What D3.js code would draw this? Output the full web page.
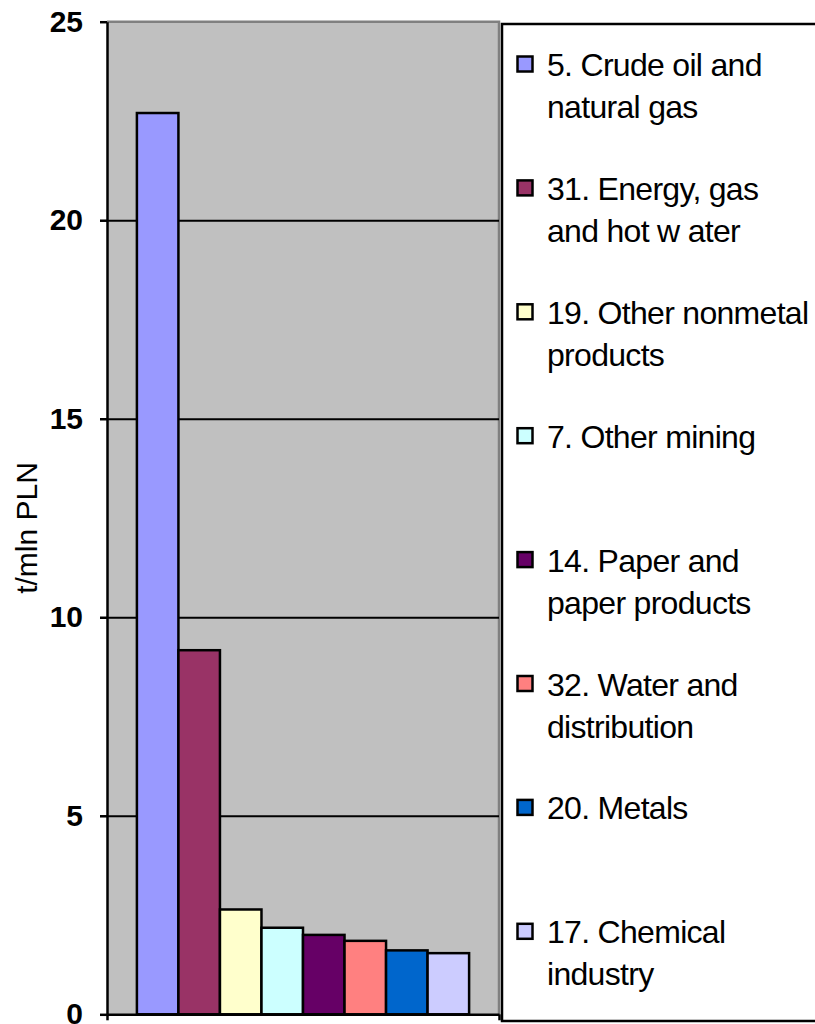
<!DOCTYPE html>
<html>
<head>
<meta charset="utf-8">
<script src="https://cdn.jsdelivr.net/npm/d3@7/dist/d3.min.js"></script>
<style>
  html, body { margin: 0; padding: 0; background: #ffffff; }
  svg { display: block; font-family: "Liberation Sans", Arial, sans-serif; }
</style>
</head>
<body>
<svg id="chart" width="815" height="1024"></svg>
<script>
// Emission intensity by industry (t per mln PLN)
const categories = [
  "5. Crude oil and natural gas",
  "31. Energy, gas and hot water",
  "19. Other nonmetal products",
  "7. Other mining",
  "14. Paper and paper products",
  "32. Water and distribution",
  "20. Metals",
  "17. Chemical industry"
];
const values = [22.7, 9.17, 2.64, 2.18, 2.0, 1.85, 1.61, 1.54];
const colors = ["#9999ff", "#993366", "#ffffcc", "#ccffff", "#660066", "#ff8080", "#0066cc", "#ccccff"];
const legendLines = [
  ["5. Crude oil and", "natural gas"],
  ["31. Energy, gas", "and hot w ater"],
  ["19. Other nonmetal", "products"],
  ["7. Other mining"],
  ["14. Paper and", "paper products"],
  ["32. Water and", "distribution"],
  ["20. Metals"],
  ["17. Chemical", "industry"]
];
const yTicks = [0, 5, 10, 15, 20, 25];
const yTitle = "t/mln PLN";

const svg = d3.select("#chart");
const plot = { left: 107, right: 499, top: 21.7, bottom: 1014.3 };

const y = d3.scaleLinear().domain([0, 25]).range([plot.bottom, plot.top]);
const x = d3.scaleBand().domain(categories)
  .range([plot.left, plot.right])
  .paddingInner(0).paddingOuter(0.72);

// plot background
svg.append("rect")
  .attr("x", plot.left).attr("y", plot.top)
  .attr("width", plot.right - plot.left).attr("height", plot.bottom - plot.top)
  .attr("fill", "#c0c0c0");

// top and right frame
svg.append("path")
  .attr("d", `M${plot.left},${plot.top}H${plot.right}V${plot.bottom}`)
  .attr("fill", "none").attr("stroke", "#808080").attr("stroke-width", 2.5);

// gridlines
const grid = svg.append("g")
  .attr("transform", `translate(${plot.left},0)`)
  .call(d3.axisLeft(y).tickValues([5, 10, 15, 20])
    .tickSize(-(plot.right - plot.left)).tickFormat(""));
grid.select(".domain").remove();
grid.selectAll(".tick line").attr("stroke", "#000").attr("stroke-width", 2);

// bars
svg.append("g").selectAll("rect")
  .data(categories)
  .join("rect")
  .attr("x", d => x(d))
  .attr("y", (d, i) => y(values[i]))
  .attr("width", x.bandwidth())
  .attr("height", (d, i) => y(0) - y(values[i]))
  .attr("fill", (d, i) => colors[i])
  .attr("stroke", "#000")
  .attr("stroke-width", 2.5);

// category axis (single group, ticks at both edges)
const xEdge = d3.scaleLinear().domain([0, 1]).range([plot.left, plot.right]);
const xAxis = svg.append("g")
  .attr("transform", `translate(0,${plot.bottom})`)
  .call(d3.axisBottom(xEdge).tickValues([0, 1]).tickSize(6).tickSizeOuter(0).tickFormat(""));
xAxis.selectAll("path, line").attr("stroke", "#000").attr("stroke-width", 2.5);

// value axis
const yAxis = svg.append("g")
  .attr("transform", `translate(${plot.left},0)`)
  .call(d3.axisLeft(y).tickValues(yTicks).tickSize(7).tickSizeOuter(0).tickPadding(17));
yAxis.selectAll("path, line").attr("stroke", "#000").attr("stroke-width", 2.5);
yAxis.selectAll("text")
  .attr("fill", "#000")
  .attr("font-size", 30)
  .attr("font-weight", "bold")
  .attr("font-family", "'Liberation Sans', Arial, sans-serif");

// axis title
svg.append("text")
  .attr("transform", "translate(37,528) rotate(-90)")
  .attr("text-anchor", "middle")
  .attr("font-size", 30)
  .attr("fill", "#000")
  .text(yTitle);

// legend
svg.append("rect")
  .attr("x", 502).attr("y", 24)
  .attr("width", 330).attr("height", 997)
  .attr("fill", "#ffffff").attr("stroke", "#000").attr("stroke-width", 2.5);

const legend = svg.append("g").selectAll("g")
  .data(categories)
  .join("g")
  .attr("transform", (d, i) => `translate(0,${76 + i * 123.9})`);

legend.append("rect")
  .attr("x", 517.5).attr("y", -19.5)
  .attr("width", 15).attr("height", 15)
  .attr("fill", (d, i) => colors[i])
  .attr("stroke", "#000").attr("stroke-width", 2.5);

legend.append("text")
  .attr("x", 547)
  .attr("font-size", 32)
  .attr("letter-spacing", -0.7)
  .attr("fill", "#000")
  .selectAll("tspan")
  .data((d, i) => legendLines[i])
  .join("tspan")
  .attr("x", 547)
  .attr("y", (d, j) => j * 42)
  .text(d => d);
</script>
</body>
</html>
